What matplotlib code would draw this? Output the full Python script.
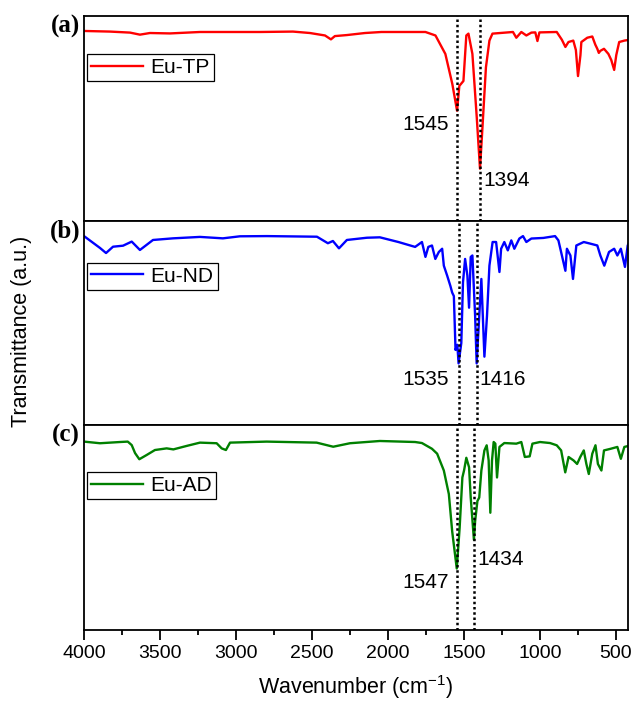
import matplotlib
matplotlib.use("Agg")
import matplotlib.pyplot as plt
from matplotlib.ticker import MultipleLocator

plt.rcParams['font.family'] = ['Liberation Sans', 'DejaVu Sans']

# ---------------- data ----------------
tp_wn = [4000, 3829, 3697, 3632, 3566, 3434, 3237, 3039, 2842, 2625, 2513, 2414, 2375, 2349,
         2270, 2151, 2043, 1753, 1687, 1622, 1576, 1545, 1530, 1503, 1484, 1470, 1444, 1415,
         1394, 1378, 1355, 1332, 1312, 1177, 1155, 1122, 1089, 1056, 1030, 1016, 1003, 889,
         855, 832, 812, 780, 763, 749, 733, 727, 688, 655, 635, 622, 612, 602, 578, 549, 530,
         511, 497, 478, 444, 411]
tp_t = [92.7, 92.4, 91.9, 90.9, 91.7, 91.5, 92.2, 92.2, 92.2, 92.4, 91.7, 90.5, 88.6, 90.2,
        90.7, 91.7, 92.2, 92.2, 90.5, 81.5, 66.8, 53.8, 65.9, 68.3, 90.5, 91.4, 81.5, 50.2,
        25.5, 45.4, 74.9, 88.0, 91.4, 92.2, 89.4, 92.2, 90.5, 91.9, 92.0, 87.8, 92.0, 92.2,
        88.4, 84.9, 87.3, 88.0, 83.4, 70.7, 80.9, 87.3, 89.4, 90.0, 86.0, 84.0, 82.0, 83.0,
        84.0, 81.5, 78.5, 73.7, 81.0, 87.3, 88.0, 88.4]

nd_wn = [4000, 3895, 3855, 3809, 3743, 3686, 3632, 3546, 3414, 3237, 3086, 2974, 2796, 2467,
         2395, 2362, 2322, 2270, 2138, 2053, 1931, 1821, 1776, 1753, 1734, 1710, 1688, 1665,
         1643, 1632, 1610, 1589, 1577, 1566, 1555, 1543, 1535, 1517, 1506, 1492, 1477, 1466,
         1455, 1444, 1426, 1416, 1399, 1385, 1365, 1348, 1332, 1311, 1288, 1266, 1255, 1234,
         1211, 1188, 1168, 1135, 1111, 1089, 1056, 977, 900, 878, 855, 832, 822, 799, 782,
         760, 711, 668, 622, 602, 576, 545, 511, 490, 467, 440, 422, 400]
nd_t = [92.6, 86.8, 84.3, 87.4, 87.9, 89.9, 85.8, 90.7, 91.5, 92.2, 91.5, 92.5, 92.6, 92.3,
        89.1, 90.2, 86.6, 90.7, 91.8, 92.0, 89.7, 87.3, 89.7, 82.4, 87.3, 88.0, 81.4, 84.8,
        86.4, 78.1, 73.2, 68.2, 64.9, 63.2, 36.8, 39.3, 30.2, 40.2, 69.9, 81.4, 73.2, 57.5,
        82.4, 83.1, 53.4, 30.2, 53.4, 71.6, 33.5, 53.4, 78.1, 89.7, 89.7, 75.0, 86.4, 89.7,
        85.6, 90.5, 86.4, 91.4, 92.6, 89.7, 91.4, 91.7, 92.6, 90.5, 83.1, 75.6, 86.4, 83.1,
        71.6, 88.0, 89.7, 88.9, 88.0, 83.1, 78.1, 84.8, 86.4, 83.1, 86.4, 77.5, 88.0, 91.4]

ad_wn = [4000, 3895, 3763, 3712, 3686, 3664, 3636, 3587, 3533, 3456, 3412, 3324, 3237, 3127,
         3094, 3066, 3039, 2798, 2469, 2360, 2250, 2053, 1821, 1776, 1710, 1676, 1632, 1599,
         1577, 1547, 1528, 1510, 1499, 1484, 1466, 1455, 1434, 1426, 1411, 1399, 1385, 1365,
         1350, 1337, 1326, 1315, 1304, 1293, 1282, 1266, 1234, 1155, 1122, 1099, 1067, 1049,
         999, 933, 889, 860, 833, 811, 778, 755, 734, 711, 694, 678, 655, 634, 618, 595, 578,
         534, 490, 467, 444, 400]
ad_t = [91.9, 91.1, 91.7, 91.9, 90.2, 86.3, 83.3, 85.4, 87.8, 88.6, 88.1, 89.8, 91.4, 91.1,
        88.6, 87.8, 91.4, 91.9, 91.4, 89.4, 91.1, 92.2, 91.7, 91.2, 88.4, 86.0, 77.8, 66.3,
        48.1, 30.0, 49.8, 74.4, 77.8, 84.0, 79.4, 64.6, 44.0, 53.1, 62.9, 64.6, 77.8, 87.6,
        90.1, 82.7, 57.2, 82.7, 91.7, 90.9, 74.4, 89.3, 91.2, 90.9, 91.7, 84.4, 84.7, 90.9,
        91.7, 91.2, 90.1, 87.6, 76.9, 84.4, 82.7, 81.0, 84.4, 87.6, 81.0, 76.1, 86.0, 90.1,
        81.0, 77.8, 87.6, 88.4, 89.3, 83.5, 89.3, 90.1]

series_names = ['Eu-TP', 'Eu-ND', 'Eu-AD']
panel_tags = ['(a)', '(b)', '(c)']
peak_marks = [[1545, 1394], [1535, 1416], [1547, 1434]]
# label anchor: (wavenumber, value, ha) for each peak label
peak_label_pos = [[(1598, 47.1, 'right'), (1374, 20.0, 'left')],
                  [(1599, 22.1, 'right'), (1398, 22.1, 'left')],
                  [(1599, 23.4, 'right'), (1411, 34.6, 'left')]]
colors = ['#FF0000', '#0000FF', '#008000']
legend_y = [0.815, 0.796, 0.772]

data = [(tp_wn, tp_t), (nd_wn, nd_t), (ad_wn, ad_t)]

# ---------------- figure ----------------
W, H = 632, 707
fig = plt.figure(figsize=(W / 100, H / 100), dpi=100)
left = 84 / W
width = (628 - 84) / W
tops = [16, 221, 425]
bots = [221, 425, 630]

axes = []
for i in range(3):
    b = 1 - bots[i] / H
    h = (bots[i] - tops[i]) / H
    ax = fig.add_axes([left, b, width, h], sharex=axes[0] if axes else None)
    axes.append(ax)
    wn, t = data[i]
    ax.plot(wn, t, color=colors[i], lw=1.7, label=series_names[i], solid_joinstyle='round')
    for pk in peak_marks[i]:
        ax.axvline(pk, color='black', ls=(0, (1, 1.1)), lw=1.8)
    for (pk, lab) in zip(peak_marks[i], peak_label_pos[i]):
        ax.text(lab[0], lab[1], str(pk), ha=lab[2], va='center', fontsize=15, color='black')
    ax.set_ylim(0, 100)
    ax.set_yticks([])
    for sp in ax.spines.values():
        sp.set_linewidth(1.3)
    ax.text(-0.007, 1 - 10.5 / 205, panel_tags[i], transform=ax.transAxes,
            ha='right', va='center', fontsize=18, fontweight='bold',
            family=['Liberation Serif', 'DejaVu Serif'])
    leg = ax.legend(loc='upper left', bbox_to_anchor=(0.0055, legend_y[i]), borderaxespad=0,
                    fontsize=15, frameon=True, fancybox=False, framealpha=1,
                    edgecolor='black', handlelength=2.5, handletextpad=0.35,
                    borderpad=0.2)
    leg.get_frame().set_linewidth(0.9)

axes[0].set_xlim(4000, 420)
for ax in axes[:2]:
    ax.tick_params(axis='x', which='both', bottom=False, labelbottom=False)

axc = axes[2]
axc.xaxis.set_major_locator(MultipleLocator(500))
axc.xaxis.set_minor_locator(MultipleLocator(250))
axc.tick_params(axis='x', which='major', direction='out', length=7, width=1.3, labelsize=14)
axc.tick_params(axis='x', which='minor', direction='out', length=3.5, width=1.3)
axc.set_xlabel('Wavenumber (cm$^{\\mathregular{-1}}$)', fontsize=15.5, labelpad=8)

fig.text(22 / W, 1 - 331 / H, 'Transmittance (a.u.)', rotation=90, ha='center', va='center',
         fontsize=15.5)

fig.savefig('out.png', dpi=100)
